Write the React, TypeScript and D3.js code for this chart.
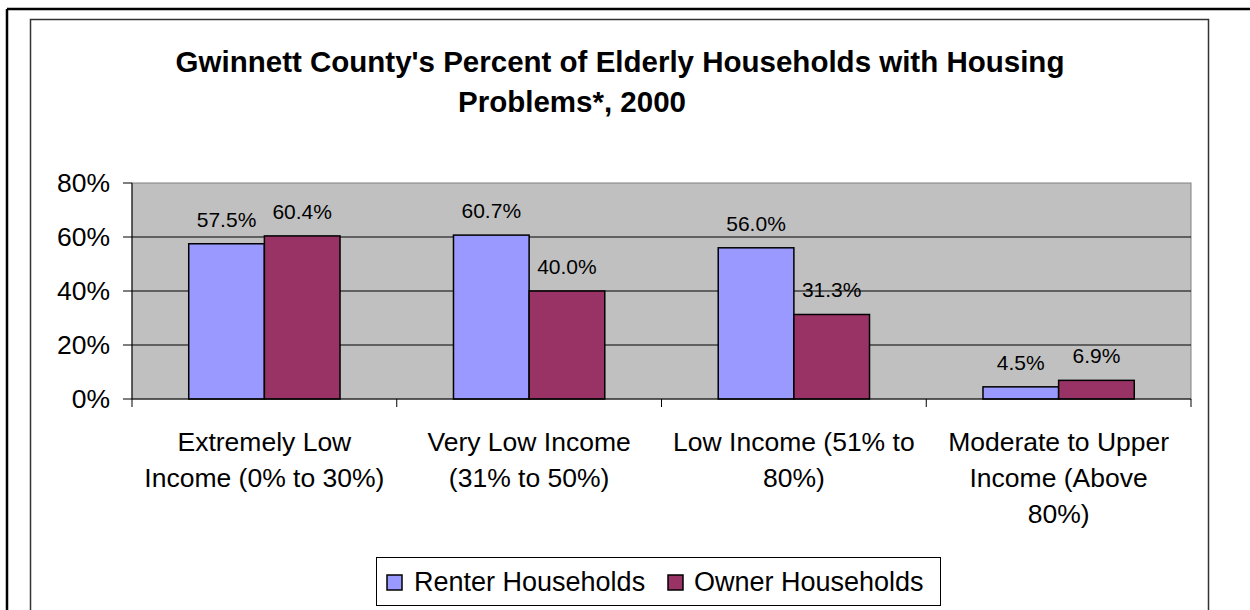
import React from "react";
import * as d3 from "d3";

const categories: string[][] = [
  ["Extremely Low", "Income (0% to 30%)"],
  ["Very Low Income", "(31% to 50%)"],
  ["Low Income (51% to", "80%)"],
  ["Moderate to Upper", "Income (Above", "80%)"],
];
const categoryKeys = ["c1", "c2", "c3", "c4"];
const seriesNames = ["Renter Households", "Owner Households"];
const renterValues = [57.5, 60.7, 56.0, 4.5];
const ownerValues = [60.4, 40.0, 31.3, 6.9];
const yTicks = [0, 20, 40, 60, 80];
const titleLines = [
  "Gwinnett County's Percent of Elderly Households with Housing",
  "Problems*, 2000",
];

const colors = ["#9999FF", "#993366"];
const FONT = "'Liberation Sans', Arial, Helvetica, sans-serif";

export default function App() {
  const W = 1250;
  const H = 610;
  const plot = { left: 132, right: 1191, top: 183, bottom: 399 };

  const x = d3
    .scaleBand<string>()
    .domain(categoryKeys)
    .range([plot.left, plot.right])
    .padding(0);
  const xs = d3
    .scaleBand<string>()
    .domain(["0", "1"])
    .range([0, x.bandwidth()])
    .paddingInner(0)
    .paddingOuter(0.75);
  const y = d3.scaleLinear().domain([0, 80]).range([plot.bottom, plot.top]);

  const series = [renterValues, ownerValues];
  const fmt = (v: number) => v.toFixed(1) + "%";

  return (
    <svg
      width={W}
      height={H}
      style={{ position: "absolute", left: 0, top: 0, background: "#fff" }}
      fontFamily={FONT}
    >
      <rect x={0} y={0} width={W} height={H} fill="#fff" />
      {/* outer page border */}
      <line x1={7} y1={9} x2={W} y2={9} stroke="#000" strokeWidth={2.5} />
      <line x1={7} y1={9} x2={7} y2={H} stroke="#000" strokeWidth={2.5} />
      {/* chart area border */}
      <path
        d={`M30.5,${H + 5} V19.5 H1208.5 V${H + 5}`}
        fill="none"
        stroke="#333"
        strokeWidth={1.5}
      />

      {/* title */}
      <text x={620} y={72} textAnchor="middle" fontWeight="bold" fontSize={29.5}>
        {titleLines[0]}
      </text>
      <text x={572} y={112} textAnchor="middle" fontWeight="bold" fontSize={29.5}>
        {titleLines[1]}
      </text>

      {/* plot area */}
      <rect
        x={plot.left}
        y={plot.top}
        width={plot.right - plot.left}
        height={plot.bottom - plot.top}
        fill="#C0C0C0"
        stroke="#808080"
        strokeWidth={1}
      />
      {yTicks
        .filter((t) => t > 0 && t < 80)
        .map((t) => (
          <line
            key={"g" + t}
            x1={plot.left}
            x2={plot.right}
            y1={y(t)}
            y2={y(t)}
            stroke="#000"
            strokeWidth={1}
          />
        ))}

      {/* bars */}
      {categoryKeys.map((k, i) =>
        series.map((vals, s) => {
          const bx = (x(k) as number) + (xs(String(s)) as number);
          const by = y(vals[i]);
          return (
            <g key={k + s}>
              <rect
                x={bx}
                y={by}
                width={xs.bandwidth()}
                height={y(0) - by}
                fill={colors[s]}
                stroke="#000"
                strokeWidth={1.5}
              />
              <text
                x={bx + xs.bandwidth() / 2}
                y={by - 17}
                textAnchor="middle"
                fontSize={21}
              >
                {fmt(vals[i])}
              </text>
            </g>
          );
        })
      )}

      {/* axes */}
      <line x1={plot.left} x2={plot.left} y1={plot.top} y2={plot.bottom} stroke="#000" strokeWidth={1} />
      <line x1={plot.left} x2={plot.right} y1={plot.bottom} y2={plot.bottom} stroke="#000" strokeWidth={1} />
      {yTicks.map((t) => (
        <g key={"t" + t}>
          <line x1={plot.left - 9} x2={plot.left} y1={y(t)} y2={y(t)} stroke="#000" strokeWidth={1} />
          <text x={110} y={y(t) + 9} textAnchor="end" fontSize={26.5}>
            {t + "%"}
          </text>
        </g>
      ))}
      {categoryKeys.map((k) => (
        <line
          key={"xt" + k}
          x1={x(k) as number}
          x2={x(k) as number}
          y1={plot.bottom}
          y2={plot.bottom + 8}
          stroke="#000"
          strokeWidth={1}
        />
      ))}
      <line x1={plot.right} x2={plot.right} y1={plot.bottom} y2={plot.bottom + 8} stroke="#000" strokeWidth={1} />

      {categoryKeys.map((k, i) => (
        <text
          key={"cl" + k}
          x={(x(k) as number) + x.bandwidth() / 2}
          y={451}
          textAnchor="middle"
          fontSize={26.5}
        >
          {categories[i].map((line, j) => (
            <tspan key={j} x={(x(k) as number) + x.bandwidth() / 2} dy={j === 0 ? 0 : 36}>
              {line}
            </tspan>
          ))}
        </text>
      ))}

      {/* legend */}
      <rect x={376.5} y={557.5} width={564} height={48} fill="#fff" stroke="#000" strokeWidth={1} />
      <rect x={387} y={575} width={15} height={15} fill={colors[0]} stroke="#000" strokeWidth={1.5} />
      <text x={414} y={591} fontSize={27}>
        {seriesNames[0]}
      </text>
      <rect x={668} y={575} width={15} height={15} fill={colors[1]} stroke="#000" strokeWidth={1.5} />
      <text x={694} y={591} fontSize={27}>
        {seriesNames[1]}
      </text>
    </svg>
  );
}
